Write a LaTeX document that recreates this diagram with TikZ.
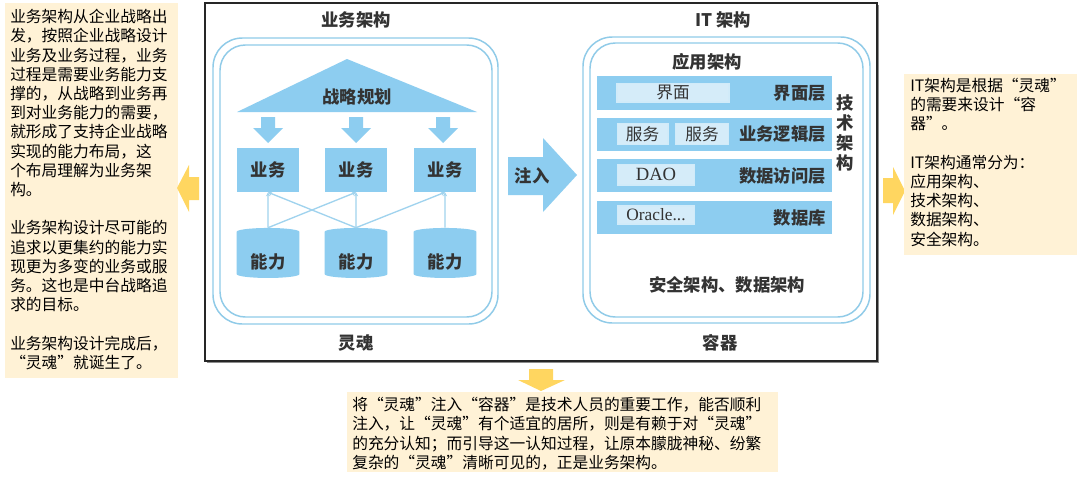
\documentclass[tikz,border=0pt]{standalone}
\usepackage{fontspec}
\setmainfont{Noto Sans CJK SC}
\newfontfamily\latinserif{Liberation Serif}
\usetikzlibrary{shapes.geometric,arrows.meta}
\definecolor{notefill}{HTML}{FFF2D6}
\definecolor{notearrow}{HTML}{FFD660}
\definecolor{archblue}{HTML}{8DCDF0}
\definecolor{archline}{HTML}{90CBE8}
\definecolor{archpale}{HTML}{D5ECF9}
\definecolor{archlink}{HTML}{A0D3EE}
\definecolor{archtext}{HTML}{333333}
\tikzset{
  notebox/.style={fill=notefill, draw=none},
  notetext/.style={anchor=north west, inner sep=0pt, align=left, font=\fontsize{11.8pt}{14.4pt}\selectfont},
  archtitle/.style={inner sep=0pt, text=archtext, font=\fontsize{13pt}{15pt}\selectfont\bfseries},
  bizbox/.style={fill=archblue, minimum width=47pt, minimum height=33pt, inner sep=0pt, archtitle},
  capbox/.style={cylinder, shape border rotate=90, aspect=0.22, fill=archblue, minimum width=47pt, minimum height=37.5pt, inner sep=0pt, archtitle},
  layer/.style={fill=archblue, minimum width=176pt, minimum height=25pt, inner sep=0pt},
  slot/.style={fill=archpale, draw=white!60!archblue, line width=1pt, inner sep=0pt, text=archtext, font=\fontsize{12.5pt}{15pt}\selectfont},
  link/.style={archlink, line width=1pt, -{Stealth[length=3pt,width=3pt]}},
  ring/.style={draw=archline, line width=1.1pt},
}
\begin{document}
\begin{tikzpicture}[x=0.75pt,y=-0.75pt]
  \useasboundingbox (0,0) rectangle (1080,482);
  % left note
  \fill[notebox] (5,3) rectangle (178,378);
  \node[notetext] (lefttext) at (10,9) {业务架构从企业战略出\\发，按照企业战略设计\\业务及业务过程，业务\\过程是需要业务能力支\\撑的，从战略到业务再\\到对业务能力的需要，\\就形成了支持企业战略\\实现的能力布局，这\\个布局理解为业务架\\构。\\[14.4pt]业务架构设计尽可能的\\追求以更集约的能力实\\现更为多变的业务或服\\务。这也是中台战略追\\求的目标。\\[14.4pt]业务架构设计完成后，\\“灵魂”就诞生了。};
  \fill[notearrow] (199,177) -- (189,177) -- (189,165) -- (177,188) -- (189,212) -- (189,200) -- (199,200) -- cycle;

  % frame with shadow
  \fill[black!45] (207,5) rectangle (879,363);
  \filldraw[fill=white, draw=black!85, line width=1pt] (205,3) rectangle (877,361);

  % business architecture (soul)
  \node[archtitle] (bizhead) at (356,20) {业务架构};
  \draw[ring, rounded corners=22pt] (213,38) rectangle (498,324);
  \draw[ring, rounded corners=19pt] (220,45) rectangle (492,317);
  \fill[archblue] (347,59) -- (237,112) -- (477,112) -- cycle;
  \node[archtitle] (plan) at (357,97) {战略规划};
  \foreach \x in {268,356,443} {
    \fill[archblue] (\x-7,117) -- (\x+7,117) -- (\x+7,128) -- (\x+15,128)
      -- (\x,143) -- (\x-15,128) -- (\x-7,128) -- cycle;
  }
  \foreach \i/\x in {1/268,2/356,3/445} {
    \node[bizbox] (biz\i) at (\x,170) {业务};
    \node[capbox] (cap\i) at (\x,255) {\raisebox{-10pt}[0pt][0pt]{能力}};
  }
  \foreach \a/\b in {1/1,1/2,2/1,2/2,2/3,3/3}
    \draw[link] (cap\a.north) -- (biz\b.south);
  \node[archtitle] (soul) at (356,343) {灵魂};

  % inject arrow
  \fill[archblue] (508,157) -- (543,157) -- (543,138) -- (577,175) -- (543,212) -- (543,195) -- (508,195) -- cycle;
  \node[archtitle] (inject) at (532,176) {注入};

  % IT architecture (container)
  \node[archtitle] (ithead) at (723,20) {IT 架构};
  \draw[ring, rounded corners=22pt] (583,37) rectangle (870,323);
  \draw[ring, rounded corners=19pt] (590,43) rectangle (863,317);
  \node[archtitle] (apphead) at (707,62) {应用架构};
  \foreach \n/\y/\t in {ui/93/界面层, logic/134.5/业务逻辑层, dao/175.5/数据访问层, db/217.5/数据库} {
    \node[layer, anchor=west] (\n) at (597,\y) {};
    \node[archtitle, anchor=east] (\n label) at (826,\y) {\t};
  }
  \node[slot, minimum width=84pt, minimum height=14pt] (uislot) at (673,92.5) {界面};
  \node[slot, minimum width=38pt, minimum height=16pt] (svc1) at (642.5,134) {服务};
  \node[slot, minimum width=40pt, minimum height=16pt] (svc2) at (702,134) {服务};
  \node[slot, minimum width=58pt, minimum height=15.5pt, font=\latinserif\fontsize{14pt}{15pt}\selectfont] (daoslot) at (656,174.5) {DAO};
  \node[slot, minimum width=58pt, minimum height=13.5pt, font=\latinserif\fontsize{13pt}{15pt}\selectfont] (dbslot) at (656,215) {Oracle...};
  \node[archtitle, align=center, font=\fontsize{13pt}{15pt}\selectfont\bfseries] (techarch) at (845,133) {技\\术\\架\\构};
  \node[archtitle] (secdata) at (727,285) {安全架构、数据架构};
  \node[archtitle] (box) at (720,343) {容器};

  % right note
  \fill[notearrow] (883,178) -- (893,178) -- (893,167) -- (905,191) -- (893,215) -- (893,203) -- (883,203) -- cycle;
  \fill[notebox] (904,74) rectangle (1077,255);
  \node[notetext] (righttext) at (910,78) {IT架构是根据“灵魂”\\的需要来设计“容\\器”。\\[14.4pt]IT架构通常分为：\\应用架构、\\技术架构、\\数据架构、\\安全架构。};

  % bottom note
  \fill[notearrow] (529,369) -- (553,369) -- (553,380) -- (565,380) -- (541,391) -- (518,380) -- (529,380) -- cycle;
  \fill[notebox] (347,392) rectangle (778,472);
  \node[notetext] (bottomtext) at (352,397) {将“灵魂”注入“容器”是技术人员的重要工作，能否顺利\\注入，让“灵魂”有个适宜的居所，则是有赖于对“灵魂”\\的充分认知；而引导这一认知过程，让原本朦胧神秘、纷繁\\复杂的“灵魂”清晰可见的，正是业务架构。};
\end{tikzpicture}
\end{document}
